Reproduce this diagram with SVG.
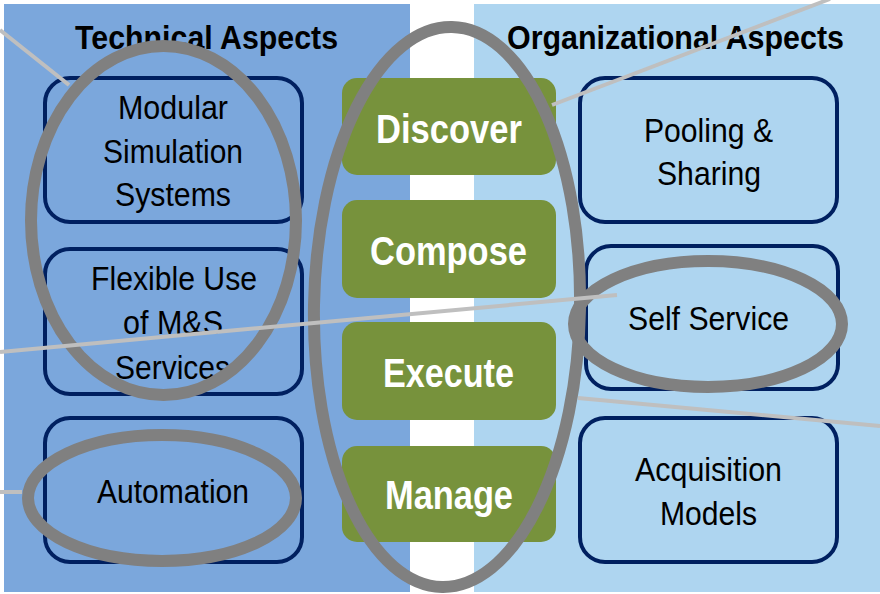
<svg xmlns="http://www.w3.org/2000/svg" width="880" height="594" viewBox="0 0 880 594">
<style>
.box{fill:none;stroke:#002060;stroke-width:4}
.act{fill:#77923C}
.t{font-family:"Liberation Sans",Arial,sans-serif;font-size:34px;fill:#000;text-anchor:middle}
.h{font-family:"Liberation Sans",Arial,sans-serif;font-size:33px;font-weight:bold;fill:#000;text-anchor:middle}
.g{font-family:"Liberation Sans",Arial,sans-serif;font-size:41px;font-weight:bold;fill:#fff;text-anchor:middle}
.ell{fill:none;stroke:#808080;stroke-width:12}
.ln{stroke:#BFBFBF;stroke-width:4;fill:none}
</style>
<rect x="0" y="0" width="880" height="594" fill="#fff"/>
<g id="panels">
<rect x="4" y="4" width="406" height="588" fill="#7BA7DC"/>
<rect x="474" y="4" width="406" height="588" fill="#AED5F0"/>
<text class="h" x="206.5" y="49" textLength="263" lengthAdjust="spacingAndGlyphs">Technical Aspects</text>
<text class="h" x="675.5" y="49" textLength="337" lengthAdjust="spacingAndGlyphs">Organizational Aspects</text>
</g>
<g id="modular">
<rect class="box" x="45" y="78" width="257" height="144" rx="25"/>
<text class="t" x="173" y="119" textLength="110" lengthAdjust="spacingAndGlyphs">Modular</text>
<text class="t" x="173" y="163" textLength="140" lengthAdjust="spacingAndGlyphs">Simulation</text>
<text class="t" x="173" y="206" textLength="116" lengthAdjust="spacingAndGlyphs">Systems</text>
</g>
<g id="flexible">
<rect class="box" x="45" y="249" width="257" height="145" rx="25"/>
<text class="t" x="174" y="290" textLength="166" lengthAdjust="spacingAndGlyphs">Flexible Use</text>
<text class="t" x="173" y="334" textLength="100" lengthAdjust="spacingAndGlyphs">of M&amp;S</text>
<text class="t" x="172.5" y="379" textLength="115" lengthAdjust="spacingAndGlyphs">Services</text>
</g>
<g id="automation">
<rect class="box" x="45" y="418" width="257" height="144" rx="25"/>
<text class="t" x="173" y="503" textLength="152" lengthAdjust="spacingAndGlyphs">Automation</text>
</g>
<g id="pooling">
<rect class="box" x="580" y="78" width="257" height="144" rx="25"/>
<text class="t" x="708.5" y="142" textLength="129" lengthAdjust="spacingAndGlyphs">Pooling &amp;</text>
<text class="t" x="709" y="185" textLength="104" lengthAdjust="spacingAndGlyphs">Sharing</text>
</g>
<g id="selfservice">
<rect class="box" x="586" y="246" width="252" height="143" rx="25"/>
<text class="t" x="708.5" y="330" textLength="161" lengthAdjust="spacingAndGlyphs">Self Service</text>
</g>
<g id="acquisition">
<rect class="box" x="580" y="418" width="257" height="144" rx="25"/>
<text class="t" x="708.5" y="481" textLength="147" lengthAdjust="spacingAndGlyphs">Acquisition</text>
<text class="t" x="708.5" y="525" textLength="97" lengthAdjust="spacingAndGlyphs">Models</text>
</g>
<g id="discover">
<rect class="act" x="342" y="78" width="214" height="97" rx="15"/>
<text class="g" x="449" y="143" textLength="146" lengthAdjust="spacingAndGlyphs">Discover</text>
</g>
<g id="compose">
<rect class="act" x="342" y="200" width="214" height="98" rx="15"/>
<text class="g" x="448.5" y="265" textLength="157" lengthAdjust="spacingAndGlyphs">Compose</text>
</g>
<g id="execute">
<rect class="act" x="342" y="322" width="214" height="98" rx="15"/>
<text class="g" x="448.5" y="387" textLength="131" lengthAdjust="spacingAndGlyphs">Execute</text>
</g>
<g id="manage">
<rect class="act" x="342" y="446" width="214" height="96" rx="15"/>
<text class="g" x="449" y="509" textLength="128" lengthAdjust="spacingAndGlyphs">Manage</text>
</g>
<g id="highlights">
<ellipse class="ell" cx="163.5" cy="220.5" rx="132.5" ry="174.5"/>
<ellipse class="ell" cx="447" cy="307" rx="133" ry="280" transform="rotate(1 447 307)"/>
<ellipse class="ell" cx="708" cy="324" rx="134" ry="63"/>
<ellipse class="ell" cx="162" cy="498" rx="134" ry="63"/>
</g>
<g id="connectors">
<line class="ln" x1="0" y1="30" x2="69" y2="85"/>
<line class="ln" x1="552" y1="105" x2="830" y2="-1"/>
<line class="ln" x1="0" y1="352" x2="617" y2="295"/>
<line class="ln" x1="578" y1="398" x2="880" y2="426"/>
<line class="ln" x1="0" y1="492" x2="22" y2="492"/>
</g>
</svg>
